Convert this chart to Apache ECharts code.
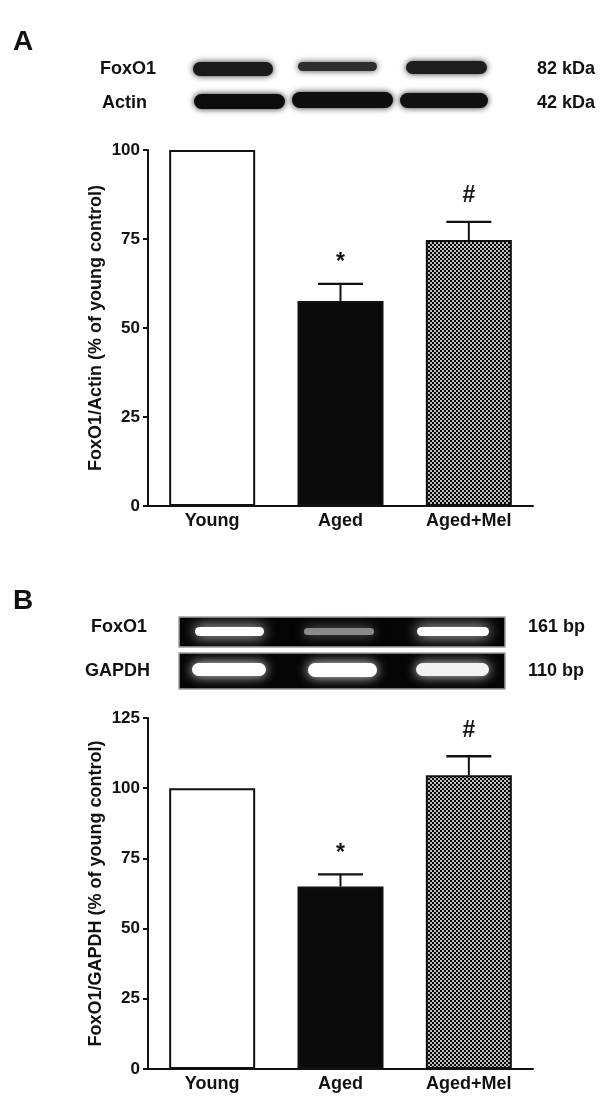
<!DOCTYPE html>
<html>
<head>
<meta charset="utf-8">
<script src="https://cdn.jsdelivr.net/npm/echarts@6/dist/echarts.min.js"></script>
<style>
html,body{margin:0;padding:0;background:#fff;}
#chart{width:608px;height:1115px;}
</style>
</head>
<body>
<div id="chart"></div>
<script>
// ---- data ----
const categories = ['Young', 'Aged', 'Aged+Mel'];
const proteinMean = [100, 57.6, 74.7];   // FoxO1/Actin (% of young control)
const proteinSem  = [0, 4.8, 5.1];
const mrnaMean    = [100, 65.0, 104.6];  // FoxO1/GAPDH (% of young control)
const mrnaSem     = [0, 4.3, 6.8];
const sigMarks    = ['', '*', '#'];
const proteinTicks = [0, 25, 50, 75, 100];
const mrnaTicks    = [0, 25, 50, 75, 100, 125];

const FONT = '"Liberation Sans", Arial, Helvetica, sans-serif';
const INK = '#111';

// crosshatch pattern (black with white dots)
function makePattern() {
  const c = document.createElement('canvas');
  c.width = 4; c.height = 4;
  const g = c.getContext('2d');
  g.fillStyle = '#050505';
  g.fillRect(0, 0, 4, 4);
  g.fillStyle = '#ffffff';
  g.beginPath(); g.arc(1, 1, 1.0, 0, Math.PI * 2); g.fill();
  g.beginPath(); g.arc(3, 3, 1.0, 0, Math.PI * 2); g.fill();
  return c;
}
const pattern = { image: makePattern(), repeat: 'repeat' };
const barFills = ['#ffffff', '#0a0a0a', pattern];

function barData(means) {
  return means.map((v, i) => ({
    value: v,
    itemStyle: { color: barFills[i], borderColor: INK, borderWidth: 2 }
  }));
}

function errRender(params, api) {
  const i = api.value(0);
  const mean = api.value(1);
  const sem = api.value(2);
  const x = api.coord([i, mean])[0];
  const top = api.coord([i, mean])[1];
  const cap = api.coord([i, mean + sem])[1];
  const children = [];
  if (sem > 0) {
    children.push({ type: 'line', shape: { x1: x, y1: top, x2: x, y2: cap }, style: { stroke: INK, lineWidth: 2 } });
    children.push({ type: 'line', shape: { x1: x - 22.5, y1: cap, x2: x + 22.5, y2: cap }, style: { stroke: INK, lineWidth: 2.4 } });
  }
  const mark = sigMarks[params.dataIndex];
  if (mark) {
    children.push({
      type: 'text',
      x: x, y: cap - (mark === '*' ? 21 : 26),
      style: { text: mark, fill: INK, font: 'bold 23px ' + FONT, align: 'center', verticalAlign: 'middle' }
    });
  }
  return { type: 'group', children: children };
}

function yAxisCfg(gridIdx, ticks, name) {
  return {
    type: 'value', gridIndex: gridIdx,
    min: ticks[0], max: ticks[ticks.length - 1], interval: ticks[1] - ticks[0],
    name: name, nameLocation: 'middle', nameGap: 43, nameMoveOverlap: false,
    nameTextStyle: { fontFamily: FONT, fontWeight: 'bold', fontSize: 18, color: INK },
    axisLine: { show: true, lineStyle: { color: INK, width: 2 } },
    axisTick: { show: true, length: 5, lineStyle: { color: INK, width: 2 } },
    axisLabel: { fontFamily: FONT, fontWeight: 'bold', fontSize: 17, color: INK, margin: 8 },
    splitLine: { show: false }
  };
}
function xAxisCfg(gridIdx) {
  return {
    type: 'category', gridIndex: gridIdx, data: categories,
    axisLine: { show: true, lineStyle: { color: INK, width: 2 } },
    axisTick: { show: false },
    axisLabel: { fontFamily: FONT, fontWeight: 'bold', fontSize: 18, color: INK, margin: 6 }
  };
}

// ---- blot / gel decoration (images in the figure) ----
function label(t, x, y, size) {
  return { type: 'text', x: x, y: y, style: { text: t, fill: INK, font: 'bold ' + (size || 18) + 'px ' + FONT, align: 'left', verticalAlign: 'middle' } };
}
function band(x1, x2, y1, y2, fill, blur, glow) {
  return { type: 'rect', shape: { x: x1, y: y1, width: x2 - x1, height: y2 - y1, r: (y2 - y1) / 2 },
    style: { fill: fill, shadowBlur: blur, shadowColor: glow || fill } };
}
const graphics = [
  label('A', 13, 42, 28),
  label('FoxO1', 100, 69), label('Actin', 102, 103),
  label('82 kDa', 537, 69), label('42 kDa', 537, 103),
  band(193, 273, 62, 76, '#1a1a1a', 6, 'rgba(20,20,20,0.9)'),
  band(298, 377, 62, 71, '#2e2e2e', 6, 'rgba(40,40,40,0.85)'),
  band(406, 487, 61, 74, '#1e1e1e', 6, 'rgba(25,25,25,0.9)'),
  band(194, 285, 94, 109, '#0d0d0d', 6, 'rgba(10,10,10,0.9)'),
  band(292, 393, 92, 108, '#0d0d0d', 6, 'rgba(10,10,10,0.9)'),
  band(400, 488, 93, 108, '#111111', 6, 'rgba(15,15,15,0.9)'),
  label('B', 13, 601, 28),
  label('FoxO1', 91, 627), label('GAPDH', 85, 671),
  label('161 bp', 528, 627), label('110 bp', 528, 671),
  { type: 'rect', shape: { x: 179, y: 617, width: 326, height: 30 }, style: { fill: '#050505', stroke: '#a0a0a0', lineWidth: 1.5 } },
  { type: 'rect', shape: { x: 179, y: 653, width: 326, height: 36 }, style: { fill: '#050505', stroke: '#a0a0a0', lineWidth: 1.5 } },
  band(195, 264, 627, 636, '#ffffff', 14, 'rgba(230,230,230,1)'),
  band(304, 374, 628, 635, '#8a8a8a', 12, 'rgba(110,110,110,1)'),
  band(417, 489, 627, 636, '#ffffff', 14, 'rgba(230,230,230,1)'),
  band(192, 266, 663, 676, '#ffffff', 12, 'rgba(235,235,235,1)'),
  band(308, 377, 663, 677, '#ffffff', 12, 'rgba(235,235,235,1)'),
  band(416, 489, 663, 676, '#f2f2f2', 12, 'rgba(225,225,225,1)')
];

const chart = echarts.init(document.getElementById('chart'), null, { renderer: 'canvas' });
chart.setOption({
  backgroundColor: '#ffffff',
  animation: false,
  grid: [
    { left: 148, right: 75, top: 150, bottom: 609 },
    { left: 148, right: 75, top: 718, bottom: 46 }
  ],
  xAxis: [xAxisCfg(0), xAxisCfg(1)],
  yAxis: [
    yAxisCfg(0, proteinTicks, 'FoxO1/Actin (% of young control)'),
    yAxisCfg(1, mrnaTicks, 'FoxO1/GAPDH (% of young control)')
  ],
  series: [
    { type: 'bar', xAxisIndex: 0, yAxisIndex: 0, barWidth: 86, data: barData(proteinMean) },
    { type: 'bar', xAxisIndex: 1, yAxisIndex: 1, barWidth: 86, data: barData(mrnaMean) },
    { type: 'custom', xAxisIndex: 0, yAxisIndex: 0, renderItem: errRender, z: 5,
      data: categories.map((c, i) => [i, proteinMean[i], proteinSem[i]]) },
    { type: 'custom', xAxisIndex: 1, yAxisIndex: 1, renderItem: errRender, z: 5,
      data: categories.map((c, i) => [i, mrnaMean[i], mrnaSem[i]]) }
  ],
  graphic: graphics
});
</script>
</body>
</html>
